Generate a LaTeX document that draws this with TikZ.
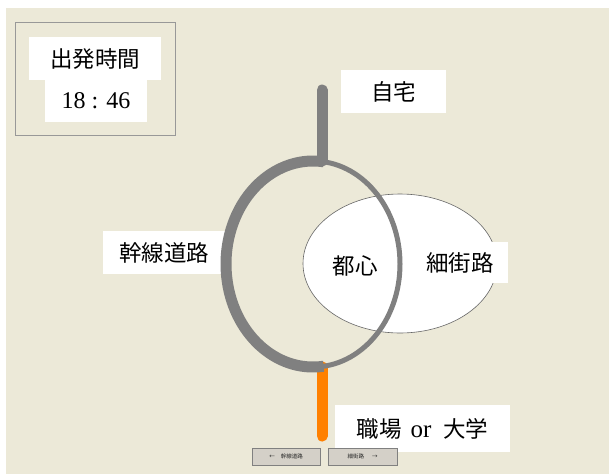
\documentclass[tikz,border=0pt]{standalone}
\usepackage{fontspec}
\usetikzlibrary{calc}
\setmainfont{Liberation Serif}
\newfontfamily\cjk{Noto Sans CJK JP}
\definecolor{bg}{HTML}{ECE9D8}
\definecolor{road}{HTML}{808080}
\definecolor{dest}{HTML}{FF8000}
\definecolor{btn}{HTML}{D4D0C8}
\definecolor{frame}{HTML}{989898}
\tikzset{
  lbl/.style={fill=white, inner sep=0pt, font=\fontsize{22.5}{26}\selectfont\cjk},
  btnbox/.style={fill=btn, draw=road, line width=0.8pt, inner sep=0pt, minimum height=17pt,
     font=\fontsize{5.5}{6}\selectfont\cjk, text=black!85},
}
\begin{document}
\begin{tikzpicture}[x=1pt,y=-1pt]
\useasboundingbox (0,0) rectangle (609,474);
\fill[white] (0,0) rectangle (609,474);
\fill[bg] (6,8) rectangle (609,474);
% departure frame
\draw[frame, line width=1pt] (15,22) rectangle (175,135);
\node[lbl, minimum width=132pt, minimum height=43pt] (dep) at (95,58.5) {出発時間};
\node[lbl, minimum width=102pt, minimum height=42pt, font=\fontsize{24}{28}\selectfont] (time) at (96,101) {18 : 46};
% white ellipse (city centre)
\draw[white, fill=white, draw=black!60, line width=0.6pt] (400,263.5) ellipse [x radius=97, y radius=69.5];
\node[lbl] (toshin) at (355,266) {都心};
\node[lbl, minimum width=96pt, minimum height=41pt] (saigai) at (460,262.5) {細街路};
% labels
\node[lbl, minimum width=105pt, minimum height=43pt] (home) at (393.5,91.5) {自宅};
\node[lbl, minimum width=175pt, minimum height=47pt] (work) at (422.5,428.5) {{\cjk 職場}\hspace{9pt}{\fontsize{25}{28}\selectfont\rmfamily or}\hspace{12pt}{\cjk 大学}};
\node[lbl, minimum width=122pt, minimum height=43pt] (kansen) at (164,252.5) {幹線道路};
% roads
\coordinate (c) at (313,264);
\coordinate (top) at (322,161);
\coordinate (bot) at (322,367);
\coordinate (homeend) at (322,90);
\coordinate (workend) at (322,436);
\draw[dest, line width=11pt, line cap=round] (bot) -- (workend);
\draw[road, line width=11pt, line cap=round] (homeend) -- (top);
\draw[road, line width=5pt] (c) ellipse [x radius=87, y radius=103];
\draw[road, line width=11pt] ($(c)+(83:87 and 103)$) arc[start angle=83, end angle=277, x radius=87, y radius=103];
% buttons
\node[btnbox, minimum width=68pt] (b1) at (286,456.5) {←\hspace{6pt}幹線道路};
\node[btnbox, minimum width=69pt] (b2) at (362.5,456.5) {細街路\hspace{8pt}→};
\end{tikzpicture}
\end{document}
